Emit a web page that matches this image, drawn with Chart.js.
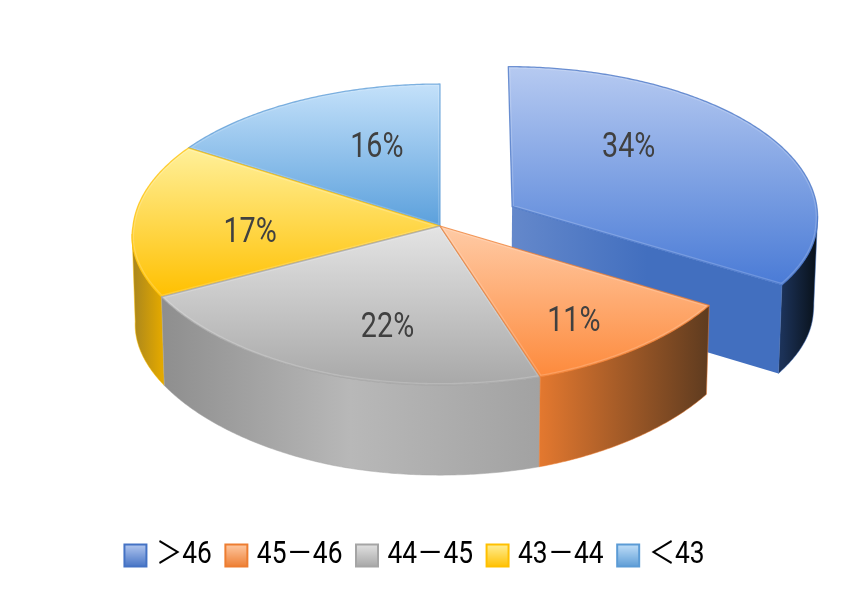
<!DOCTYPE html>
<html>
<head>
<meta charset="utf-8">
<style>html,body{margin:0;padding:0;background:#fff}canvas{display:block}</style>
<script src="https://cdn.jsdelivr.net/npm/chart.js@4/dist/chart.umd.min.js"></script>
</head>
<body>
<canvas id="c" width="866" height="594" style="width:866px;height:594px"></canvas>
<script>
const categories = ['＞46', '45－46', '44－45', '43－44', '＜43'];
const shares = [34, 11, 22, 17, 16];
const baseColors = ['#4472C4', '#ED7D31', '#A5A5A5', '#FFC000', '#5B9BD5'];
const topLight = ['#B6CAF1', '#FFCBA6', '#E4E4E4', '#FFF09A', '#C4E1FA'];
const topDark = ['#4A7BD6', '#FD8A3C', '#A8A8A8', '#FFC000', '#5BA0DC'];
const wallStops = [
  ['#1C3258', '#081018'],
  ['#E3782F', '#5E3B1F'],
  ['#8E8E8E', '#B8B8B8', '#A2A2A2'],
  ['#A8851E', '#E2A800'],
  ['#5B9BD5', '#5B9BD5']
];
const explode = [0.27, 0, 0, 0, 0];
const drawOrder = [4, 3, 0, 2, 1];
const labelNudge = [[-40, -16], [17, 27], [18, 19.5], [-6, 10.5], [23, -1.5]];

const CX = 440, CY = 226, ASPECT = 307 / 150, K = 0.0565;
const DEPTH = 87.5, DEPTH_TILT = 2.5, BASE_SHRINK = 0.99;
const LABEL_SQUEEZE = 0.82, LEGEND_SQUEEZE = 0.85;
const FONT_STACK = 'Roboto, "Noto Sans CJK JP", sans-serif';

function proj(u, v, r, lower) {
  const w = 1 + K * v;
  const t = v < 0 ? Math.min(1, -v / w) : 0;
  const bulge = Math.sin(Math.PI * t);
  const sx = CX + ASPECT * r * u / w * (lower ? BASE_SHRINK : 1) * (1 + 0.007 * bulge);
  let sy = CY - r * v / w - 3.5 * bulge;
  if (lower) sy += DEPTH - DEPTH_TILT * v / w;
  return [sx, sy];
}
function rim(arc, i, theta, lower) { // theta: library angle in radians
  const mid = (arc.startAngle + arc.endAngle) / 2;
  const e = explode[i];
  return proj(Math.cos(theta) + e * Math.cos(mid), -Math.sin(theta) - e * Math.sin(mid), arc.outerRadius, lower);
}
function apex(arc, i, lower) {
  const mid = (arc.startAngle + arc.endAngle) / 2;
  const e = explode[i];
  return proj(e * Math.cos(mid), -e * Math.sin(mid), arc.outerRadius, lower);
}
function samples(a0, a1) {
  const n = Math.max(2, Math.ceil(Math.abs(a1 - a0) / 0.01));
  const out = [];
  for (let j = 0; j <= n; j++) out.push(a0 + (a1 - a0) * j / n);
  return out;
}
function polygon(ctx, pts) {
  ctx.beginPath();
  pts.forEach((p, j) => j ? ctx.lineTo(p[0], p[1]) : ctx.moveTo(p[0], p[1]));
  ctx.closePath();
}
function hGrad(ctx, x0, x1, stops) {
  const g = ctx.createLinearGradient(x0, 0, x1, 0);
  stops.forEach((c, j) => g.addColorStop(j / (stops.length - 1), c));
  return g;
}
function drawSlice(ctx, arc, i) {
  // visible part of the outer wall: from silhouette to silhouette of the front rim
  const front0 = 0.065, front1 = Math.PI - 0.057;
  const a0 = Math.max(arc.startAngle, front0), a1 = Math.min(arc.endAngle, front1);
  if (i === 0) {
    const A = apex(arc, i, false), B = rim(arc, i, arc.endAngle, false);
    const C = rim(arc, i, arc.endAngle, true), D = apex(arc, i, true);
    polygon(ctx, [A, B, C, D]);
    ctx.fillStyle = hGrad(ctx, A[0], B[0], ['#6488CB', '#426FBF', '#426FBF']);
    ctx.fill();
  }
  if (a1 > a0) {
    const ths = samples(a0, a1);
    const upper = ths.map(t => rim(arc, i, t, false));
    const lower = ths.map(t => rim(arc, i, t, true));
    const xs = upper.map(p => p[0]);
    polygon(ctx, upper.concat(lower.reverse()));
    ctx.fillStyle = hGrad(ctx, Math.min(...xs), Math.max(...xs), wallStops[i]);
    ctx.fill();
    ctx.lineWidth = 1;
    ctx.strokeStyle = baseColors[i];
    ctx.globalAlpha = 0.5;
    ctx.stroke();
    ctx.globalAlpha = 1;
  }
  // top face
  const pts = [apex(arc, i, false)].concat(samples(arc.startAngle, arc.endAngle).map(t => rim(arc, i, t, false)));
  const ys = pts.map(p => p[1]);
  const g = ctx.createLinearGradient(0, Math.min(...ys), 0, Math.max(...ys));
  g.addColorStop(0, topLight[i]);
  g.addColorStop(1, topDark[i]);
  polygon(ctx, pts);
  ctx.fillStyle = g;
  ctx.fill();
  // soft bevel just inside the edge
  ctx.save();
  ctx.clip();
  ctx.lineWidth = 4;
  ctx.strokeStyle = 'rgba(255,255,255,0.18)';
  ctx.stroke();
  ctx.restore();
  polygon(ctx, pts);
  ctx.lineWidth = 1.3;
  ctx.lineJoin = 'round';
  ctx.strokeStyle = baseColors[i];
  ctx.globalAlpha = 0.75;
  ctx.stroke();
  ctx.globalAlpha = 1;
}
function squeezedText(ctx, text, x, y, squeeze) {
  ctx.save();
  ctx.translate(x, y);
  ctx.scale(squeeze, 1);
  CanvasRenderingContext2D.prototype.fillText.call(ctx, text, 0, 0);
  ctx.restore();
}
const pie3d = {
  id: 'pie3d',
  beforeUpdate(chart) {
    // the legend keeps its own layout; its text is only set slightly narrower
    const legend = chart.legend, ctx = chart.ctx;
    if (!legend || legend.__squeezed) return;
    legend.__squeezed = true;
    const measure = t => ({ width: CanvasRenderingContext2D.prototype.measureText.call(ctx, t).width * LEGEND_SQUEEZE });
    const fit = legend.fit, draw = legend.draw;
    legend.fit = function () {
      ctx.measureText = measure;
      fit.apply(legend, arguments);
      delete ctx.measureText;
    };
    legend.draw = function () {
      ctx.measureText = measure;
      ctx.fillText = (t, x, y) => squeezedText(ctx, t, x, y, LEGEND_SQUEEZE);
      draw.apply(legend, arguments);
      delete ctx.measureText;
      delete ctx.fillText;
    };
  },
  beforeDatasetsDraw(chart) {
    const ctx = chart.ctx;
    const arcs = chart.getDatasetMeta(0).data;
    ctx.save();
    drawOrder.forEach(i => drawSlice(ctx, arcs[i], i));
    ctx.fillStyle = '#404040';
    ctx.font = '35px ' + FONT_STACK;
    ctx.textAlign = 'center';
    ctx.textBaseline = 'middle';
    arcs.forEach((arc, i) => {
      const mid = (arc.startAngle + arc.endAngle) / 2, e = explode[i];
      const f = 0.6;
      const p = proj((e + f) * Math.cos(mid), -(e + f) * Math.sin(mid), arc.outerRadius, false);
      squeezedText(ctx, shares[i] + '%', p[0] + labelNudge[i][0], p[1] + labelNudge[i][1], LABEL_SQUEEZE);
    });
    ctx.restore();
    return false;
  }
};
function legendBox(i) {
  const s = 26, c = document.createElement('canvas');
  c.width = s; c.height = s;
  const x = c.getContext('2d');
  const g = x.createLinearGradient(0, 1, 0, s - 1);
  g.addColorStop(0, topLight[i]);
  g.addColorStop(1, baseColors[i]);
  x.fillStyle = g;
  x.fillRect(2, 2, s - 4, s - 4);
  x.lineWidth = 2;
  x.strokeStyle = baseColors[i];
  x.strokeRect(2, 2, s - 4, s - 4);
  return c;
}
new Chart(document.getElementById('c'), {
  type: 'pie',
  data: { labels: categories, datasets: [{ data: shares, backgroundColor: baseColors, borderWidth: 0 }] },
  plugins: [pie3d],
  options: {
    responsive: false,
    animation: false,
    events: [],
    radius: 150,
    layout: { padding: { top: 0, left: 0, right: 31, bottom: 13 } },
    plugins: {
      tooltip: { enabled: false },
      legend: {
        position: 'bottom',
        labels: {
          usePointStyle: true,
          pointStyleWidth: 10,
          padding: 19.5,
          color: '#595959',
          font: { family: FONT_STACK, size: 31 },
          generateLabels: chart => chart.data.labels.map((t, i) => ({
            text: t, pointStyle: legendBox(i), fillStyle: baseColors[i],
            strokeStyle: baseColors[i], lineWidth: 0, hidden: false, index: i
          }))
        }
      }
    }
  }
});
</script>
</body>
</html>
